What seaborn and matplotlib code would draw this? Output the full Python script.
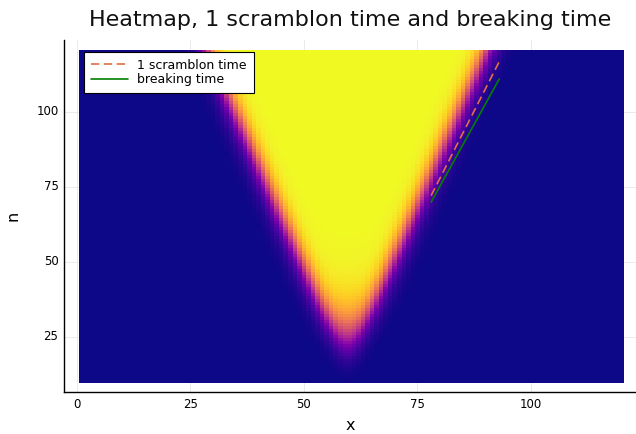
import numpy as np
import pandas as pd
import seaborn as sns
import matplotlib.pyplot as plt

# ---------------- data ----------------
x_sites = np.arange(1, 121)          # columns of the heatmap
n_steps = np.arange(10, 121)         # rows of the heatmap
cone_center = 59.5                   # x position of the light-cone axis
front_n = [50.2, 66.9, 83.6, 100.2, 116.9]       # rows where the front was measured
front_halfwidth = [9.7, 15.4, 20.0, 25.1, 29.3]  # half width of the cone at those rows
front_width = 1.2                    # sharpness of the front (x units)
onset_n = 25.0                       # row where the tip reaches half its height
onset_width = 6.0                    # how gradually the tip builds up (rows)

line_x = [78, 93]
n_scramblon = [72.0, 116.7]
n_breaking = [69.8, 110.9]

x_ticks = [0, 25, 50, 75, 100]
n_ticks = [25, 50, 75, 100]

title = "Heatmap, 1 scramblon time and breaking time"

# ---------------- build the heatmap table ----------------
slope, intercept = np.polyfit(front_n, front_halfwidth, 1)
X, N = np.meshgrid(x_sites, n_steps)
hw = slope * N + intercept


def sig(z):
    return 1.0 / (1.0 + np.exp(-z))


amp = sig((N - onset_n) / onset_width)
values = amp * sig((X - cone_center + hw) / front_width) * sig((cone_center + hw - X) / front_width)
df = pd.DataFrame(values, index=n_steps, columns=x_sites)

# ---------------- plot ----------------
sns.set_theme(style="white")
plt.rcParams["font.family"] = ["DejaVu Sans"]

fig = plt.figure(figsize=(6.36, 4.34), dpi=100)
ax = fig.add_axes([64 / 636, 41.7 / 434, 572 / 636, 352.3 / 434])

sns.heatmap(df, ax=ax, cmap="plasma", vmin=0, vmax=1, cbar=False)


def xu(x):
    return np.asarray(x, dtype=float) - x_sites[0] + 0.5


def yr(n):
    return np.asarray(n, dtype=float) - n_steps[0] + 0.5


sns.lineplot(x=xu(line_x), y=yr(n_scramblon), ax=ax, color="#e26f46",
             linestyle=(0, (5, 2.7)), lw=1.2, label="1 scramblon time")
sns.lineplot(x=xu(line_x), y=yr(n_breaking), ax=ax, color="#008000",
             lw=1.2, label="breaking time")

ax.set_xlim(xu(-2.8), xu(123.1))
ax.set_ylim(yr(6.4), yr(123.9))

ax.set_xticks(xu(x_ticks))
ax.set_xticklabels([str(t) for t in x_ticks], rotation=0)
ax.set_yticks(yr(n_ticks))
ax.set_yticklabels([str(t) for t in n_ticks], rotation=0)
ax.tick_params(direction="in", length=4, width=0.8, color="black",
               labelsize=8.5, labelcolor="black", pad=4)

ax.grid(True, color="#e6e6e6", lw=0.6)
ax.set_axisbelow(True)

for side in ["left", "bottom"]:
    ax.spines[side].set_visible(True)
    ax.spines[side].set_color("black")
    ax.spines[side].set_linewidth(1.0)
for side in ["top", "right"]:
    ax.spines[side].set_visible(False)

ax.set_xlabel("x", fontsize=11.5, labelpad=5, color="black")
ax.set_ylabel("n", fontsize=11.5, labelpad=11, color="black")
ax.set_title(title, fontsize=16, pad=10, color="#111111")

leg = ax.legend(loc="upper left", bbox_to_anchor=(0.035, 0.967), borderaxespad=0,
                fontsize=9, frameon=True, fancybox=False, framealpha=1,
                edgecolor="black", handlelength=3.0, borderpad=0.55,
                labelspacing=0.15, handletextpad=0.7, labelcolor="black")
leg.get_frame().set_linewidth(0.8)

fig.savefig("out.png", dpi=100)
